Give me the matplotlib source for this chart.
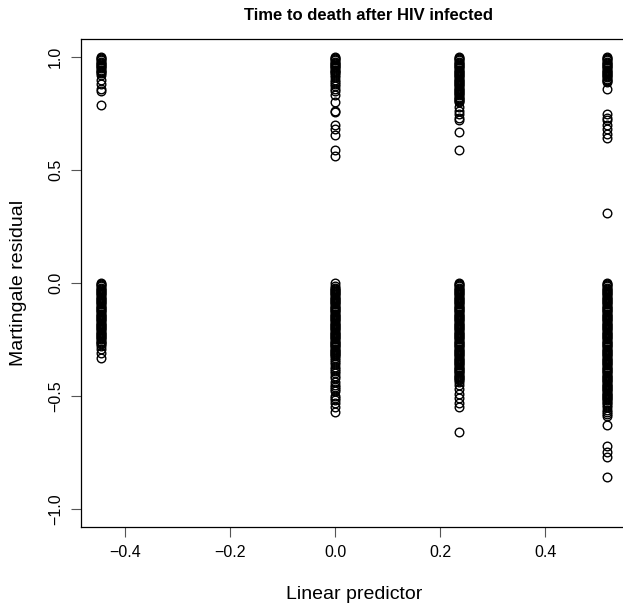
import numpy as np
import matplotlib.pyplot as plt

plt.rcParams['font.family'] = ['Liberation Sans', 'DejaVu Sans']

# linear predictor of each group (four distinct covariate patterns)
lp_values = [-0.445, 0.0, 0.236, 0.517]

resid_g1 = [1.000, 0.995, 0.990, 0.985, 0.980, 0.975, 0.970, 0.965, 0.960, 0.955,
            0.950, 0.945, 0.940, 0.935, 0.930, 0.920, 0.900, 0.880, 0.860, 0.850,
            0.790,
            0.000, -0.005, -0.010, -0.015, -0.020, -0.025, -0.030, -0.035, -0.040, -0.045,
            -0.050, -0.055, -0.060, -0.065, -0.070, -0.075, -0.080, -0.085, -0.090, -0.095,
            -0.100, -0.105, -0.110, -0.115, -0.120, -0.125, -0.130, -0.135, -0.140, -0.145,
            -0.150, -0.155, -0.160, -0.165, -0.170, -0.175, -0.180, -0.185, -0.190, -0.195,
            -0.200, -0.205, -0.210, -0.215, -0.220, -0.225, -0.230, -0.235, -0.240, -0.245,
            -0.250, -0.255, -0.260, -0.265, -0.270, -0.280, -0.290, -0.310, -0.330]
resid_g2 = [1.000, 0.995, 0.990, 0.985, 0.980, 0.975, 0.970, 0.965, 0.960, 0.955,
            0.950, 0.945, 0.940, 0.935, 0.930, 0.920, 0.910, 0.900, 0.890, 0.880,
            0.870, 0.860, 0.850, 0.830, 0.800, 0.760, 0.755, 0.700, 0.680, 0.655,
            0.590, 0.560,
            0.000, -0.015, -0.020, -0.025, -0.030, -0.035, -0.040, -0.045,
            -0.050, -0.055, -0.060, -0.065, -0.070, -0.075, -0.080, -0.085, -0.090, -0.095,
            -0.100, -0.105, -0.110, -0.115, -0.120, -0.125, -0.130, -0.135, -0.140, -0.145,
            -0.150, -0.155, -0.160, -0.165, -0.170, -0.175, -0.180, -0.185, -0.190, -0.195,
            -0.200, -0.205, -0.210, -0.215, -0.220, -0.225, -0.230, -0.235, -0.240, -0.245,
            -0.250, -0.255, -0.260, -0.265, -0.270, -0.275, -0.280, -0.285, -0.290, -0.295,
            -0.300, -0.305, -0.310, -0.315, -0.320, -0.325, -0.330, -0.340, -0.350, -0.360,
            -0.370, -0.380, -0.390, -0.400, -0.410, -0.420, -0.440, -0.450, -0.460, -0.470,
            -0.480, -0.500, -0.510, -0.520, -0.530, -0.550, -0.570]
resid_g3 = [1.000, 0.995, 0.990, 0.985, 0.980, 0.975, 0.970, 0.965, 0.960, 0.955,
            0.950, 0.945, 0.940, 0.935, 0.930, 0.925, 0.920, 0.915, 0.910, 0.905,
            0.900, 0.895, 0.890, 0.885, 0.880, 0.875, 0.870, 0.865, 0.860, 0.855,
            0.850, 0.845, 0.840, 0.835, 0.830, 0.825, 0.820, 0.815, 0.810, 0.805,
            0.800, 0.780, 0.760, 0.750, 0.730, 0.720, 0.670, 0.590,
            0.000, -0.005, -0.010, -0.015, -0.020, -0.025, -0.030, -0.035, -0.040, -0.045,
            -0.050, -0.055, -0.060, -0.065, -0.070, -0.075, -0.080, -0.085, -0.090, -0.095,
            -0.100, -0.105, -0.110, -0.115, -0.120, -0.125, -0.130, -0.135, -0.140, -0.145,
            -0.150, -0.155, -0.160, -0.165, -0.170, -0.175, -0.180, -0.185, -0.190, -0.195,
            -0.200, -0.205, -0.210, -0.215, -0.220, -0.225, -0.230, -0.235, -0.240, -0.245,
            -0.250, -0.255, -0.260, -0.265, -0.270, -0.275, -0.280, -0.285, -0.290, -0.295,
            -0.300, -0.305, -0.310, -0.315, -0.320, -0.325, -0.330, -0.335, -0.340, -0.345,
            -0.350, -0.355, -0.360, -0.365, -0.370, -0.375, -0.380, -0.385, -0.390, -0.395,
            -0.400, -0.405, -0.410, -0.415, -0.420, -0.425, -0.430, -0.440, -0.450, -0.470,
            -0.490, -0.510, -0.530, -0.550, -0.660]
resid_g4 = [1.000, 0.995, 0.990, 0.985, 0.980, 0.975, 0.970, 0.965, 0.960, 0.955,
            0.950, 0.945, 0.940, 0.935, 0.930, 0.925, 0.920, 0.915, 0.910, 0.905,
            0.900, 0.895, 0.890, 0.860, 0.750, 0.730, 0.720, 0.700, 0.680, 0.660,
            0.640, 0.310,
            0.000, -0.005, -0.010, -0.015, -0.020, -0.025, -0.030, -0.035, -0.040, -0.045,
            -0.050, -0.055, -0.060, -0.065, -0.070, -0.075, -0.080, -0.085, -0.090, -0.095,
            -0.100, -0.105, -0.110, -0.115, -0.120, -0.125, -0.130, -0.135, -0.140, -0.145,
            -0.150, -0.155, -0.160, -0.165, -0.170, -0.175, -0.180, -0.185, -0.190, -0.195,
            -0.200, -0.205, -0.210, -0.215, -0.220, -0.225, -0.230, -0.235, -0.240, -0.245,
            -0.250, -0.255, -0.260, -0.265, -0.270, -0.275, -0.280, -0.285, -0.290, -0.295,
            -0.300, -0.305, -0.310, -0.315, -0.320, -0.325, -0.330, -0.335, -0.340, -0.345,
            -0.350, -0.355, -0.360, -0.365, -0.370, -0.375, -0.380, -0.385, -0.390, -0.395,
            -0.400, -0.405, -0.410, -0.415, -0.420, -0.425, -0.430, -0.435, -0.440, -0.445,
            -0.450, -0.455, -0.460, -0.465, -0.470, -0.475, -0.480, -0.485, -0.490, -0.495,
            -0.500, -0.505, -0.510, -0.515, -0.520, -0.525, -0.530, -0.540, -0.550, -0.560,
            -0.570, -0.580, -0.590, -0.630, -0.720, -0.750, -0.770, -0.860]

groups = [resid_g1, resid_g2, resid_g3, resid_g4]

x_ticks = [-0.4, -0.2, 0.0, 0.2, 0.4]
y_ticks = [-1.0, -0.5, 0.0, 0.5, 1.0]

fig = plt.figure(figsize=(6.23, 6.07), dpi=100)
ax = fig.add_axes([81 / 623, 80 / 607, 546 / 623, 488 / 607])

for lp, res in zip(lp_values, groups):
    line, = ax.plot([lp] * len(res), res, linestyle='none', marker='o',
                    markersize=6.2, markerfacecolor='none',
                    markeredgecolor='black', markeredgewidth=1.0)
    line.set_snap(False)

ax.set_xlim(-0.4835, 0.5555)
ax.set_ylim(-1.08, 1.08)
ax.set_xticks(x_ticks)
ax.set_xticklabels(["{:.1f}".format(v).replace('-', '\u2212') for v in x_ticks])
ax.set_yticks(y_ticks)
ax.set_yticklabels(["{:.1f}".format(v).replace('-', '\u2212') for v in y_ticks],
                   rotation=90, va='center')
ax.tick_params(direction='out', length=7, width=0.8, color='#555555',
               labelsize=11.5, pad=6)
for s in ax.spines.values():
    s.set_linewidth(0.9)
ax.spines['right'].set_visible(False)

ax.set_xlabel("Linear predictor", fontsize=14)
ax.xaxis.set_label_coords(0.5, -0.139)
ax.xaxis.label.set_va('center')
ax.set_ylabel("Martingale residual", fontsize=14)
ax.yaxis.set_label_coords(-0.115, 0.5)
ax.yaxis.label.set_va('center')

fig.text(369 / 623, 1 - 15 / 607, "Time to death after HIV infected",
         ha='center', va='center', fontsize=12, fontweight='bold')

fig.savefig("out.png", dpi=100)
